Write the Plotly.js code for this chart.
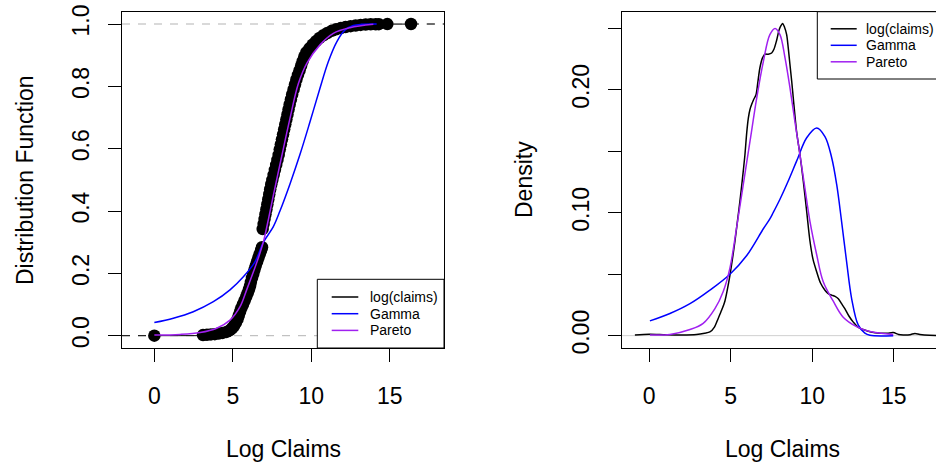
<!DOCTYPE html>
<html><head><meta charset="utf-8">
<script src="https://cdn.plot.ly/plotly-3.0.1.min.js"></script>
<style>html,body{margin:0;padding:0;overflow:hidden;background:#fff}#chart{width:1000px;height:464px}</style>
</head><body><div id="chart"></div>
<script>
// ---- Left panel: empirical CDF of log(claims) ----
const ecdfX = [0,
  3.1,3.35,3.6,3.85,4.1,4.35,4.6,
  4.8,4.95,5.08,5.2,5.3,5.38,5.46,5.55,5.65,5.75,5.85,5.95,
  6.03,6.1,6.15,6.22,6.3,6.38,6.46,6.55,6.63,6.72,6.8,6.86,
  6.90,6.96,7.02,7.08,7.14,7.2,7.26,7.32,7.38,7.45,7.52,7.6,
  7.68,7.76,7.84,7.92,7.99,8.06,8.13,8.2,8.27,8.34,8.41,8.48,
  8.55,8.62,8.7,8.78,8.87,8.96,9.05,9.15,9.25,9.35,9.45,9.55,
  9.68,9.88,10.08,10.3,10.52,10.77,11.02,11.3,11.58,11.88,12.18,12.5,
  12.82,13.14,13.46,13.78,14.1,14.3,14.84,16.35];
const ecdfY = [0.0001,
  0.002,0.003,0.004,0.005,0.007,0.009,0.012,
  0.017,0.024,0.032,0.042,0.053,0.065,0.077,0.089,0.101,0.113,0.125,0.137,
  0.149,0.16,0.172,0.185,0.198,0.212,0.225,0.238,0.25,0.262,0.274,0.284,
  0.342,0.358,0.374,0.39,0.406,0.422,0.438,0.454,0.47,0.486,0.50,0.516,
  0.532,0.548,0.564,0.58,0.598,0.614,0.63,0.646,0.662,0.678,0.694,0.71,
  0.726,0.742,0.758,0.774,0.79,0.806,0.822,0.837,0.851,0.866,0.881,0.895,
  0.909,0.922,0.934,0.945,0.955,0.964,0.971,0.978,0.983,0.987,0.990,0.993,
  0.995,0.997,0.998,0.999,0.9993,0.9995,0.9997,1.0];

const gammaCdfX = [0,1.21,2.48,3.76,4.82,5.67,6.41,6.95,7.58,8.0,8.64,9.28,9.92,10.55,11.08,11.62,12.15,12.68,13.2,14.16];
const gammaCdfY = [0.042,0.056,0.077,0.109,0.147,0.189,0.237,0.30,0.35,0.40,0.487,0.582,0.687,0.794,0.879,0.943,0.981,0.995,0.999,1.0];

const paretoCdfX = [0,1.64,2.91,3.97,4.82,5.46,5.88,6.31,6.73,6.99,7.26,7.58,8.11,8.64,9.17,9.71,10.55,11.4,12.46,13.95];
const paretoCdfY = [0.002,0.004,0.01,0.024,0.05,0.093,0.147,0.205,0.265,0.31,0.372,0.45,0.575,0.697,0.808,0.874,0.933,0.970,0.988,0.999];

// ---- Right panel: densities ----
const kdeX = [-0.88,0.0,1.0,2.0,2.9,3.4,3.72,4.0,4.23,4.45,4.64,4.8,4.95,5.1,5.26,5.41,5.56,5.72,5.87,5.98,6.08,6.18,6.28,6.4,6.55,6.67,6.79,6.95,7.1,7.3,7.51,7.65,7.81,7.95,8.07,8.18,8.3,8.43,8.53,8.63,8.74,8.84,9.04,9.25,9.45,9.66,9.86,10.05,10.27,10.5,10.78,11.0,11.19,11.4,11.6,11.8,12.0,12.25,12.52,12.8,13.13,13.6,14.15,14.6,14.97,15.3,15.58,16.0,16.3,16.6,17.2,17.9];
const kdeY = [0.0006,0.0012,0.0008,0.0006,0.001,0.002,0.003,0.007,0.014,0.021,0.028,0.038,0.049,0.062,0.077,0.093,0.109,0.128,0.147,0.165,0.177,0.184,0.188,0.192,0.196,0.207,0.218,0.226,0.229,0.229,0.230,0.233,0.240,0.248,0.252,0.254,0.251,0.245,0.234,0.221,0.207,0.193,0.166,0.147,0.126,0.101,0.077,0.062,0.052,0.043,0.037,0.034,0.033,0.032,0.030,0.026,0.022,0.016,0.011,0.007,0.005,0.003,0.002,0.002,0.0025,0.001,0.0006,0.0008,0.0018,0.001,0.0003,0.0002];

const gammaPdfX = [0.04,1.27,2.5,3.72,4.95,5.97,7.0,7.4,7.6,8.02,8.5,9.04,9.66,10.27,10.78,11.19,11.5,11.8,12.11,12.42,12.82,13.23,13.54,14.97];
const gammaPdfY = [0.012,0.018,0.026,0.037,0.050,0.065,0.087,0.095,0.100,0.111,0.125,0.142,0.161,0.169,0.162,0.145,0.123,0.093,0.060,0.030,0.0087,0.002,0.0003,0.0];

const paretoPdfX = [0.04,1.27,2.5,3.31,4.03,4.54,4.95,5.36,5.77,6.18,6.59,7.0,7.4,7.72,8.02,8.33,8.63,8.94,9.25,9.55,9.86,10.27,10.67,11.29,11.9,12.72,13.54,14.97];
const paretoPdfY = [0.0006,0.001,0.005,0.010,0.022,0.036,0.055,0.088,0.123,0.158,0.193,0.223,0.245,0.25,0.245,0.226,0.202,0.174,0.147,0.120,0.093,0.066,0.044,0.028,0.015,0.0073,0.0033,0.001];

const xTickVals = [0,5,10,15];
const cdfTickVals = [0,0.2,0.4,0.6,0.8,1.0];
const cdfTickText = ["0.0","0.2","0.4","0.6","0.8","1.0"];
const pdfTickVals = [0,0.05,0.10,0.15,0.20,0.25];
const pdfTickText = ["0.00","","0.10","","0.20",""];
const legendLabels = ["log(claims)","Gamma","Pareto"];
const seriesColors = ["#000000","#0000ff","#a020f0"];

// ---- Layout ----
const W = 1000, H = 464;
const FONT = "Liberation Sans, Arial, sans-serif";
const FS = 23;
const xr1 = [-2.06, 18.45], yr1 = [-0.0395, 1.0385];
const xr2 = [-1.69, 17.98], yr2 = [-0.0103, 0.2636];
const px = v => v / W;
const py = v => (H - v) / H;

// horizontal step segments of the ECDF (no verticals, as in plot.ecdf)
const stepX = [], stepY = [];
for (let i = 0; i < ecdfX.length - 1; i++) {
  stepX.push(ecdfX[i], ecdfX[i + 1], null);
  stepY.push(ecdfY[i], ecdfY[i], null);
}

const traces = [
  {x: [xr1[0], ecdfX[0]], y: [0, 0], xaxis: 'x', yaxis: 'y', mode: 'lines',
   line: {color: '#000', width: 1, dash: '8px,8px'}, showlegend: false, hoverinfo: 'skip'},
  {x: [ecdfX[ecdfX.length - 1], xr1[1]], y: [1, 1], xaxis: 'x', yaxis: 'y', mode: 'lines',
   line: {color: '#000', width: 1, dash: '8px,8px'}, showlegend: false, hoverinfo: 'skip'},
  {x: stepX, y: stepY, xaxis: 'x', yaxis: 'y', mode: 'lines', connectgaps: false,
   line: {color: '#000', width: 1}, showlegend: false, hoverinfo: 'skip'},
  {x: ecdfX, y: ecdfY, xaxis: 'x', yaxis: 'y', mode: 'markers', type: 'scatter',
   marker: {color: '#000', size: 12.5}, showlegend: false, hoverinfo: 'skip'},
  {x: gammaCdfX, y: gammaCdfY, xaxis: 'x', yaxis: 'y', mode: 'lines',
   line: {color: seriesColors[1], width: 1.5, shape: 'spline', smoothing: 1}, showlegend: false, hoverinfo: 'skip'},
  {x: paretoCdfX, y: paretoCdfY, xaxis: 'x', yaxis: 'y', mode: 'lines',
   line: {color: seriesColors[2], width: 1.5, shape: 'spline', smoothing: 1}, showlegend: false, hoverinfo: 'skip'},
  // right panel
  {x: kdeX, y: kdeY, xaxis: 'x2', yaxis: 'y2', mode: 'lines',
   line: {color: seriesColors[0], width: 1.5, shape: 'spline', smoothing: 0.8}, showlegend: false, hoverinfo: 'skip'},
  {x: gammaPdfX, y: gammaPdfY, xaxis: 'x2', yaxis: 'y2', mode: 'lines',
   line: {color: seriesColors[1], width: 1.5, shape: 'spline', smoothing: 1}, showlegend: false, hoverinfo: 'skip'},
  {x: paretoPdfX, y: paretoPdfY, xaxis: 'x2', yaxis: 'y2', mode: 'lines',
   line: {color: seriesColors[2], width: 1.5, shape: 'spline', smoothing: 1}, showlegend: false, hoverinfo: 'skip'}
];

const axisCommon = {
  showgrid: false, zeroline: false, showline: true, mirror: true,
  linecolor: '#000', linewidth: 1, ticks: 'outside', ticklen: 13, tickwidth: 1, tickcolor: '#000',
  tickfont: {family: FONT, size: FS, color: '#000'}, fixedrange: true
};

const shapes = [
  {type: 'line', xref: 'x', yref: 'y', x0: xr1[0], x1: xr1[1], y0: 0, y1: 0, layer: 'below',
   line: {color: '#b3b3b3', width: 1, dash: '8px,8px'}},
  {type: 'line', xref: 'x', yref: 'y', x0: xr1[0], x1: xr1[1], y0: 1, y1: 1, layer: 'below',
   line: {color: '#b3b3b3', width: 1, dash: '8px,8px'}},
  {type: 'line', xref: 'x2', yref: 'y2', x0: xr2[0], x1: xr2[1], y0: 0, y1: 0, layer: 'below',
   line: {color: '#d0d0d0', width: 1}}
];
const annotations = [
  {text: 'Log Claims', xref: 'paper', yref: 'paper', x: px(283), y: py(449), xanchor: 'center', yanchor: 'middle', showarrow: false, font: {family: FONT, size: FS, color: '#000'}},
  {text: 'Log Claims', xref: 'paper', yref: 'paper', x: px(782), y: py(449), xanchor: 'center', yanchor: 'middle', showarrow: false, font: {family: FONT, size: FS, color: '#000'}},
  {text: 'Distribution Function', xref: 'paper', yref: 'paper', x: px(25), y: py(180), xanchor: 'center', yanchor: 'middle', textangle: -90, showarrow: false, font: {family: FONT, size: FS, color: '#000'}},
  {text: 'Density', xref: 'paper', yref: 'paper', x: px(524), y: py(180), xanchor: 'center', yanchor: 'middle', textangle: -90, showarrow: false, font: {family: FONT, size: FS, color: '#000'}}
];

function addLegend(bx0, bx1, by0, by1, rows, lx0, lx1, tx) {
  shapes.push({type: 'rect', xref: 'paper', yref: 'paper', x0: px(bx0), x1: px(bx1), y0: py(by1), y1: py(by0),
    fillcolor: '#fff', line: {color: '#000', width: 1}, layer: 'above'});
  legendLabels.forEach((lab, i) => {
    shapes.push({type: 'line', xref: 'paper', yref: 'paper', x0: px(lx0), x1: px(lx1), y0: py(rows[i]), y1: py(rows[i]),
      line: {color: seriesColors[i], width: 1.5}, layer: 'above'});
    annotations.push({text: lab, xref: 'paper', yref: 'paper', x: px(tx), y: py(rows[i]), xanchor: 'left', yanchor: 'middle',
      showarrow: false, font: {family: FONT, size: 14, color: '#000'}});
  });
}
addLegend(317.3, 444, 279.3, 348, [297, 313.7, 330.4], 331.7, 358.3, 368);
addLegend(817.3, 942.3, 11.7, 79, [28.8, 45.3, 61.8], 830.7, 856.7, 863.5);

const layout = {
  width: W, height: H, margin: {l: 0, r: 0, t: 0, b: 0},
  paper_bgcolor: '#fff', plot_bgcolor: '#fff', showlegend: false,
  xaxis: Object.assign({}, axisCommon, {domain: [px(122), px(444)], range: xr1, tickvals: xTickVals, ticklabelstandoff: 14, anchor: 'y'}),
  yaxis: Object.assign({}, axisCommon, {domain: [py(348), py(12)], range: yr1, tickvals: cdfTickVals, ticktext: cdfTickText, tickangle: -90, ticklabelstandoff: 10, anchor: 'x'}),
  xaxis2: Object.assign({}, axisCommon, {domain: [px(621.7), px(942.3)], range: xr2, tickvals: xTickVals, ticklabelstandoff: 14, anchor: 'y2'}),
  yaxis2: Object.assign({}, axisCommon, {domain: [py(348.3), py(11.7)], range: yr2, tickvals: pdfTickVals, ticktext: pdfTickText, tickangle: -90, ticklabelstandoff: 10, anchor: 'x2'}),
  shapes: shapes, annotations: annotations
};

Plotly.newPlot('chart', traces, layout, {staticPlot: true, displayModeBar: false});
</script></body></html>
